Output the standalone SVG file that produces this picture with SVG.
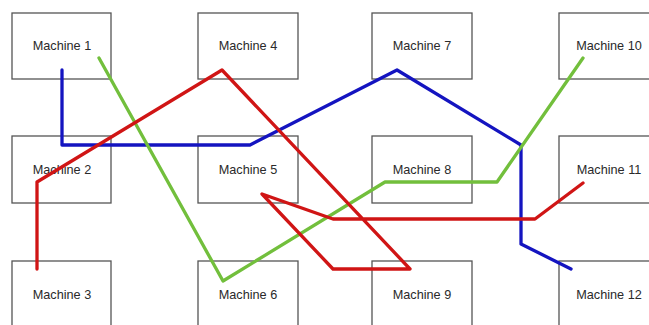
<svg xmlns="http://www.w3.org/2000/svg" width="649" height="325" viewBox="0 0 649 325">
<style>
.box rect{fill:#fff;stroke:#555;stroke-width:1.3}
.box text{font-family:"Liberation Sans",Arial,sans-serif;font-size:12.7px;fill:#2a2a2a;text-anchor:middle}
.conn polyline{fill:none;stroke-width:3.3;stroke-linejoin:round;stroke-linecap:round}
</style>
<rect width="649" height="325" fill="#fff"/>
<g id="m1" class="box"><rect x="12" y="13" width="99" height="66"/><text x="62" y="50">Machine 1</text></g>
<g id="m2" class="box"><rect x="12" y="136" width="99" height="67"/><text x="62" y="174">Machine 2</text></g>
<g id="m3" class="box"><rect x="12" y="261" width="99" height="67"/><text x="62" y="299">Machine 3</text></g>
<g id="m4" class="box"><rect x="198" y="13" width="100" height="66"/><text x="248" y="50">Machine 4</text></g>
<g id="m5" class="box"><rect x="198" y="136" width="100" height="67"/><text x="248" y="174">Machine 5</text></g>
<g id="m6" class="box"><rect x="198" y="261" width="100" height="67"/><text x="248" y="299">Machine 6</text></g>
<g id="m7" class="box"><rect x="372" y="13" width="100" height="66"/><text x="422" y="50">Machine 7</text></g>
<g id="m8" class="box"><rect x="372" y="136" width="100" height="67"/><text x="422" y="174">Machine 8</text></g>
<g id="m9" class="box"><rect x="372" y="261" width="100" height="67"/><text x="422" y="299">Machine 9</text></g>
<g id="m10" class="box"><rect x="559" y="13" width="100" height="66"/><text x="609" y="50">Machine 10</text></g>
<g id="m11" class="box"><rect x="559" y="136" width="100" height="67"/><text x="609" y="174">Machine 11</text></g>
<g id="m12" class="box"><rect x="559" y="261" width="100" height="67"/><text x="609" y="299">Machine 12</text></g>
<g id="connectors" class="conn">
<polyline stroke="#1414c0" points="62,70 62,145 250,145 397,70 521,145 521,244 571,269"/>
<polyline stroke="#72bf3c" points="99,58 223,281 385,182 497,182 583,58"/>
<polyline stroke="#d01515" points="37,269 37,182 222,70 410,269 333,269 262,194 333,219 535,219 583,183"/>
</g>
</svg>
